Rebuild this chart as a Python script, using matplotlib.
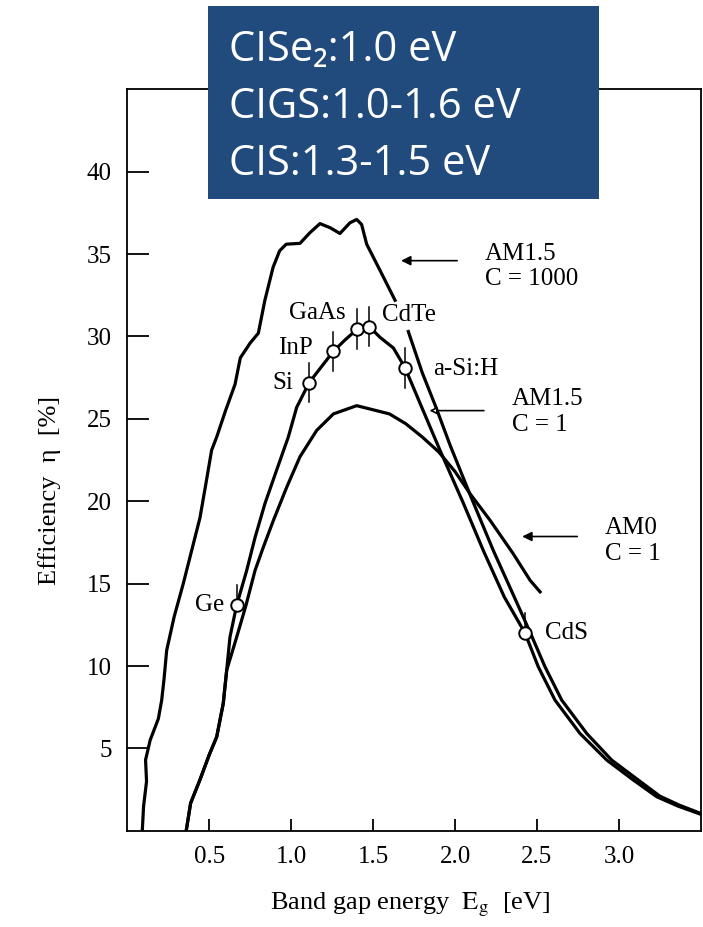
import matplotlib.pyplot as plt
from matplotlib.patches import Rectangle

# AM1.5, C = 1000 (upper curve, drawn in two pieces: gap behind the CdTe label)
c1000_x_a = [0.092, 0.10, 0.118, 0.112, 0.14, 0.19, 0.21, 0.224, 0.241, 0.286, 0.342, 0.393,
             0.444, 0.48, 0.515, 0.546, 0.60, 0.658, 0.69, 0.75, 0.80, 0.84, 0.89, 0.93,
             0.97, 1.054, 1.115, 1.176, 1.238, 1.298, 1.359, 1.40, 1.43, 1.461, 1.543, 1.634]
c1000_y_a = [0.0, 1.5, 3.0, 4.3, 5.5, 6.8, 7.9, 9.14, 10.96, 12.97, 15.0, 17.0,
             19.0, 21.06, 23.1, 23.9, 25.5, 27.1, 28.7, 29.6, 30.2, 32.2, 34.2, 35.2,
             35.6, 35.65, 36.3, 36.85, 36.6, 36.25, 36.9, 37.1, 36.8, 35.6, 34.0, 32.2]
c1000_x_b = [1.715, 1.80, 1.88, 1.97, 2.10, 2.234, 2.37, 2.46, 2.549, 2.651, 2.804, 2.956,
             3.118, 3.25, 3.37, 3.5]
c1000_y_b = [30.3, 27.8, 25.8, 23.4, 20.2, 17.0, 14.0, 12.0, 9.95, 7.93, 5.9, 4.29,
             3.08, 2.1, 1.55, 1.05]

# AM1.5, C = 1
c1_x = [0.36, 0.387, 0.444, 0.50, 0.546, 0.586, 0.607, 0.627, 0.668, 0.729, 0.78, 0.84,
        0.912, 0.983, 1.034, 1.11, 1.18, 1.258, 1.33, 1.404, 1.477, 1.542, 1.624, 1.695,
        1.797, 1.908, 2.05, 2.173, 2.30, 2.427, 2.508, 2.61, 2.763, 2.926, 3.088, 3.23,
        3.36, 3.5]
c1_y = [0.0, 1.68, 3.1, 4.6, 5.7, 7.73, 9.75, 11.76, 13.7, 15.8, 17.8, 19.85,
        21.9, 23.9, 25.7, 27.2, 28.1, 29.1, 29.8, 30.45, 30.6, 29.95, 29.3, 28.1,
        25.7, 23.1, 19.9, 17.0, 14.2, 12.0, 9.95, 7.93, 5.9, 4.29, 3.08, 2.07,
        1.5, 1.0]

# AM0, C = 1
am0_x = [0.36, 0.387, 0.444, 0.50, 0.546, 0.586, 0.607, 0.668, 0.725, 0.78, 0.83, 0.892,
         0.973, 1.054, 1.156, 1.258, 1.40, 1.60, 1.70, 1.80, 1.90, 2.00, 2.092, 2.214,
         2.356, 2.458, 2.519]
am0_y = [0.0, 1.68, 3.1, 4.6, 5.7, 7.73, 9.75, 11.76, 13.7, 15.8, 17.2, 18.84,
         20.85, 22.7, 24.3, 25.3, 25.8, 25.3, 24.7, 23.9, 23.0, 21.8, 20.45, 18.84,
         16.8, 15.2, 14.5]

# materials on the AM1.5 C=1 curve
mat_names = ["Ge", "Si", "InP", "GaAs", "CdTe", "a-Si:H", "CdS"]
mat_x = [0.668, 1.11, 1.258, 1.404, 1.477, 1.695, 2.427]
mat_y = [13.7, 27.2, 29.1, 30.45, 30.6, 28.1, 12.0]

x_ticks = [0.5, 1.0, 1.5, 2.0, 2.5, 3.0]
y_ticks = [5, 10, 15, 20, 25, 30, 35, 40]

box_lines = ["CISe\u2082:1.0 eV", "CIGS:1.0-1.6 eV", "CIS:1.3-1.5 eV"]

SERIF = 'Liberation Serif'
FS = 18

fig = plt.figure(figsize=(7.03, 9.27), dpi=100)
ax = fig.add_axes([127.2 / 703, 96.2 / 927, 573.7 / 703, 741.5 / 927])

lw = 2.3
ax.plot(c1000_x_a, c1000_y_a, color='black', lw=lw, solid_joinstyle='round')
ax.plot(c1000_x_b, c1000_y_b, color='black', lw=lw, solid_joinstyle='round')
ax.plot(c1_x, c1_y, color='black', lw=lw, solid_joinstyle='round')
ax.plot(am0_x, am0_y, color='black', lw=lw, solid_joinstyle='round')

# short vertical bars through the material points
for name, x, y in zip(mat_names, mat_x, mat_y):
    if name in ("Ge", "CdS"):
        ax.plot([x, x], [y, y + 1.2], color='black', lw=1.1, zorder=3)
    else:
        ax.plot([x, x], [y - 1.2, y + 1.2], color='black', lw=1.1, zorder=3)
ax.plot(mat_x, mat_y, 'o', ms=9, mfc='white', mec='black', mew=1.4, zorder=4)

# material labels
ax.text(0.59, 13.7, "Ge", ha='right', va='center', fontsize=FS, family=SERIF)
ax.text(1.014, 27.2, "Si", ha='right', va='center', fontsize=FS, family=SERIF)
ax.text(1.135, 29.3, "InP", ha='right', va='center', fontsize=FS, family=SERIF)
ax.text(1.33, 31.4, "GaAs", ha='right', va='center', fontsize=FS, family=SERIF)
ax.text(1.553, 31.3, "CdTe", ha='left', va='center', fontsize=FS, family=SERIF)
ax.text(1.868, 28.0, "a-Si:H", ha='left', va='center', fontsize=FS, family=SERIF)
ax.text(2.549, 12.0, "CdS", ha='left', va='center', fontsize=FS, family=SERIF)

# curve labels with arrows
arrow = dict(arrowstyle='-|>', color='black', lw=1.2, mutation_scale=14)
ax.annotate("", xy=(1.654, 34.6), xytext=(2.03, 34.6), arrowprops=arrow)
ax.text(2.183, 35.0, "AM1.5", ha='left', va='center', fontsize=FS, family=SERIF)
ax.text(2.183, 33.5, "C = 1000", ha='left', va='center', fontsize=FS, family=SERIF)

ax.annotate("", xy=(1.827, 25.5), xytext=(2.193, 25.5),
            arrowprops=dict(arrowstyle='-|>', color='black', lw=1.2, mutation_scale=10,
                            fc='white'))
ax.text(2.346, 26.2, "AM1.5", ha='left', va='center', fontsize=FS, family=SERIF)
ax.text(2.346, 24.6, "C = 1", ha='left', va='center', fontsize=FS, family=SERIF)

ax.annotate("", xy=(2.393, 17.86), xytext=(2.763, 17.86), arrowprops=arrow)
ax.text(2.916, 18.4, "AM0", ha='left', va='center', fontsize=FS, family=SERIF)
ax.text(2.916, 16.8, "C = 1", ha='left', va='center', fontsize=FS, family=SERIF)

ax.set_xlim(0, 3.5)
ax.set_ylim(0, 45)
ax.set_xticks(x_ticks)
ax.set_xticklabels([f"{t:.1f}" for t in x_ticks])
ax.set_yticks(y_ticks)
ax.set_yticklabels([str(t) for t in y_ticks])
ax.tick_params(direction='in', width=1.3, labelsize=FS, pad=11)
ax.tick_params(axis='y', length=16)
ax.tick_params(axis='x', length=9)
for lab in ax.get_xticklabels() + ax.get_yticklabels():
    lab.set_family(SERIF)
for sp in ax.spines.values():
    sp.set_linewidth(1.3)

fig.text(50 / 703, 1 - 490 / 927, "Efficiency  \u03b7  [%]", rotation=90,
         ha='center', va='center', fontsize=19, family=SERIF)
fig.text(410 / 703, 1 - 905 / 927, "Band gap energy  $\\mathrm{E_g}$  [eV]",
         ha='center', va='center', fontsize=19, family=SERIF, math_fontfamily='stix')

# blue overlay box
fig.patches.append(Rectangle((208 / 703, 1 - 199 / 927), 391 / 703, 193 / 927,
                             transform=fig.transFigure, facecolor='#214a7d',
                             edgecolor='none', zorder=5))
for i, line in enumerate(box_lines):
    fig.text(229 / 703, 1 - (61 + 57 * i) / 927, line, ha='left', va='baseline',
             fontsize=30, color='white', family=['Open Sans', 'Noto Sans', 'DejaVu Sans'],
             zorder=6)

fig.savefig("out.png", dpi=100)
